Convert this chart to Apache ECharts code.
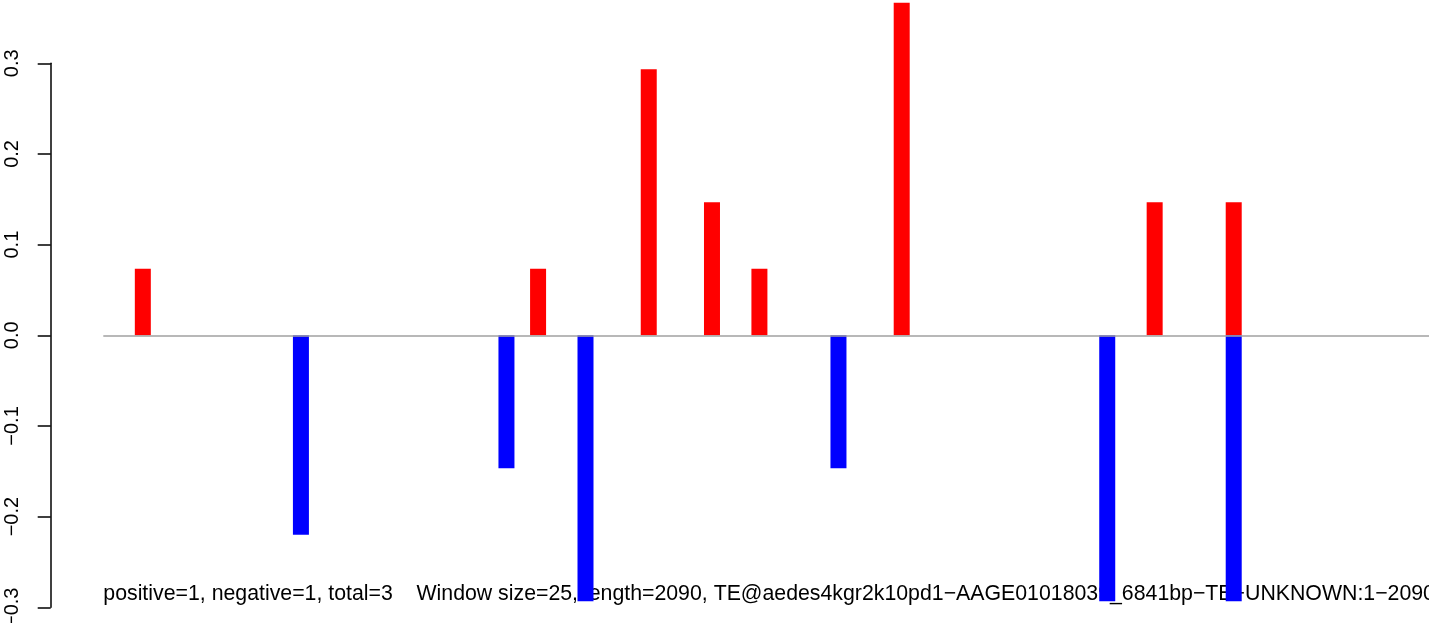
<!DOCTYPE html>
<html>
<head>
<meta charset="utf-8">
<script src="https://cdn.jsdelivr.net/npm/echarts@6/dist/echarts.min.js"></script>
<style>
html,body{margin:0;padding:0;background:#fff;}
#chart{width:1429px;height:623px;}
</style>
</head>
<body>
<div id="chart"></div>
<script>
// ---- data ----
const windowCount = 84;                       // 2090 bp / window size 25
const positiveWindows = [3, 28, 35, 39, 42, 51, 67, 72];
const positiveValues  = [0.0733, 0.0733, 0.2933, 0.1467, 0.0733, 0.3667, 0.1467, 0.1467];
const negativeWindows = [13, 26, 31, 47, 64, 72];
const negativeValues  = [-0.22, -0.1467, -0.2933, -0.1467, -0.2933, -0.2933];
const yTickMin = -0.3, yTickMax = 0.3, yTickStep = 0.1;
const footerText = 'positive=1, negative=1, total=3    Window size=25, length=2090, TE@aedes4kgr2k10pd1\u2212AAGE01018039_6841bp\u2212TE\u2212UNKNOWN:1\u22122090';

// ---- layout ----
const FONT = "'Liberation Sans', Arial, Helvetica, sans-serif";
const axisX = 50.7, axisTop = 63.3, axisBottom = 607.3;
const plotLeft = 103.3, slot = 15.81, chartH = 623;
const pxPerUnit = (axisBottom - axisTop) / (yTickMax - yTickMin);
const zeroY = axisTop + yTickMax * pxPerUnit;
const plotMax = zeroY / pxPerUnit;
const plotMin = -(chartH - zeroY) / pxPerUnit;

const categories = Array.from({length: windowCount}, (_, i) => String(i + 1));
const posData = positiveWindows.map((w, i) => [w - 1, positiveValues[i]]);
const negData = negativeWindows.map((w, i) => [w - 1, negativeValues[i]]);

const chart = echarts.init(document.getElementById('chart'), null, {renderer: 'canvas'});
chart.setOption({
  animation: false,
  backgroundColor: '#ffffff',
  grid: [
    {left: axisX, top: axisTop, height: axisBottom - axisTop, width: 1, containLabel: false, outerBoundsMode: 'none'},
    {left: plotLeft, top: 0, height: chartH, width: slot * windowCount, containLabel: false, outerBoundsMode: 'none'}
  ],
  xAxis: [
    {gridIndex: 0, type: 'value', show: false},
    {gridIndex: 1, type: 'category', data: categories, show: false, boundaryGap: true}
  ],
  yAxis: [
    {
      gridIndex: 0, type: 'value', min: yTickMin, max: yTickMax, interval: yTickStep,
      position: 'left',
      axisLine: {show: true, lineStyle: {color: '#000', width: 1.5}},
      axisTick: {show: true, length: 13, lineStyle: {color: '#000', width: 1.5}},
      splitLine: {show: false},
      axisLabel: {
        rotate: 90, margin: 28.5, fontSize: 20, fontFamily: FONT, color: '#000',
        formatter: v => (v < -1e-9 ? '\u2212' : '') + Math.abs(v).toFixed(1)
      }
    },
    {gridIndex: 1, type: 'value', min: plotMin, max: plotMax, show: false, splitLine: {show: false}}
  ],
  graphic: [{
    type: 'text', z: 0, left: plotLeft, top: 584,
    style: {text: footerText, font: '21.3px ' + FONT, fill: '#000'}
  }],
  series: [
    {
      type: 'bar', name: 'positive', xAxisIndex: 1, yAxisIndex: 1,
      data: posData, barWidth: 16, barGap: '-100%',
      itemStyle: {color: '#ff0000'}, z: 3,
      markLine: {
        silent: true, symbol: 'none', label: {show: false},
        lineStyle: {color: '#a0a0a0', width: 1.5, type: 'solid'},
        data: [{yAxis: 0}]
      }
    },
    {
      type: 'bar', name: 'negative', xAxisIndex: 1, yAxisIndex: 1,
      data: negData, barWidth: 16, barGap: '-100%',
      itemStyle: {color: '#0000ff'}, z: 3
    }
  ]
});
</script>
</body>
</html>
